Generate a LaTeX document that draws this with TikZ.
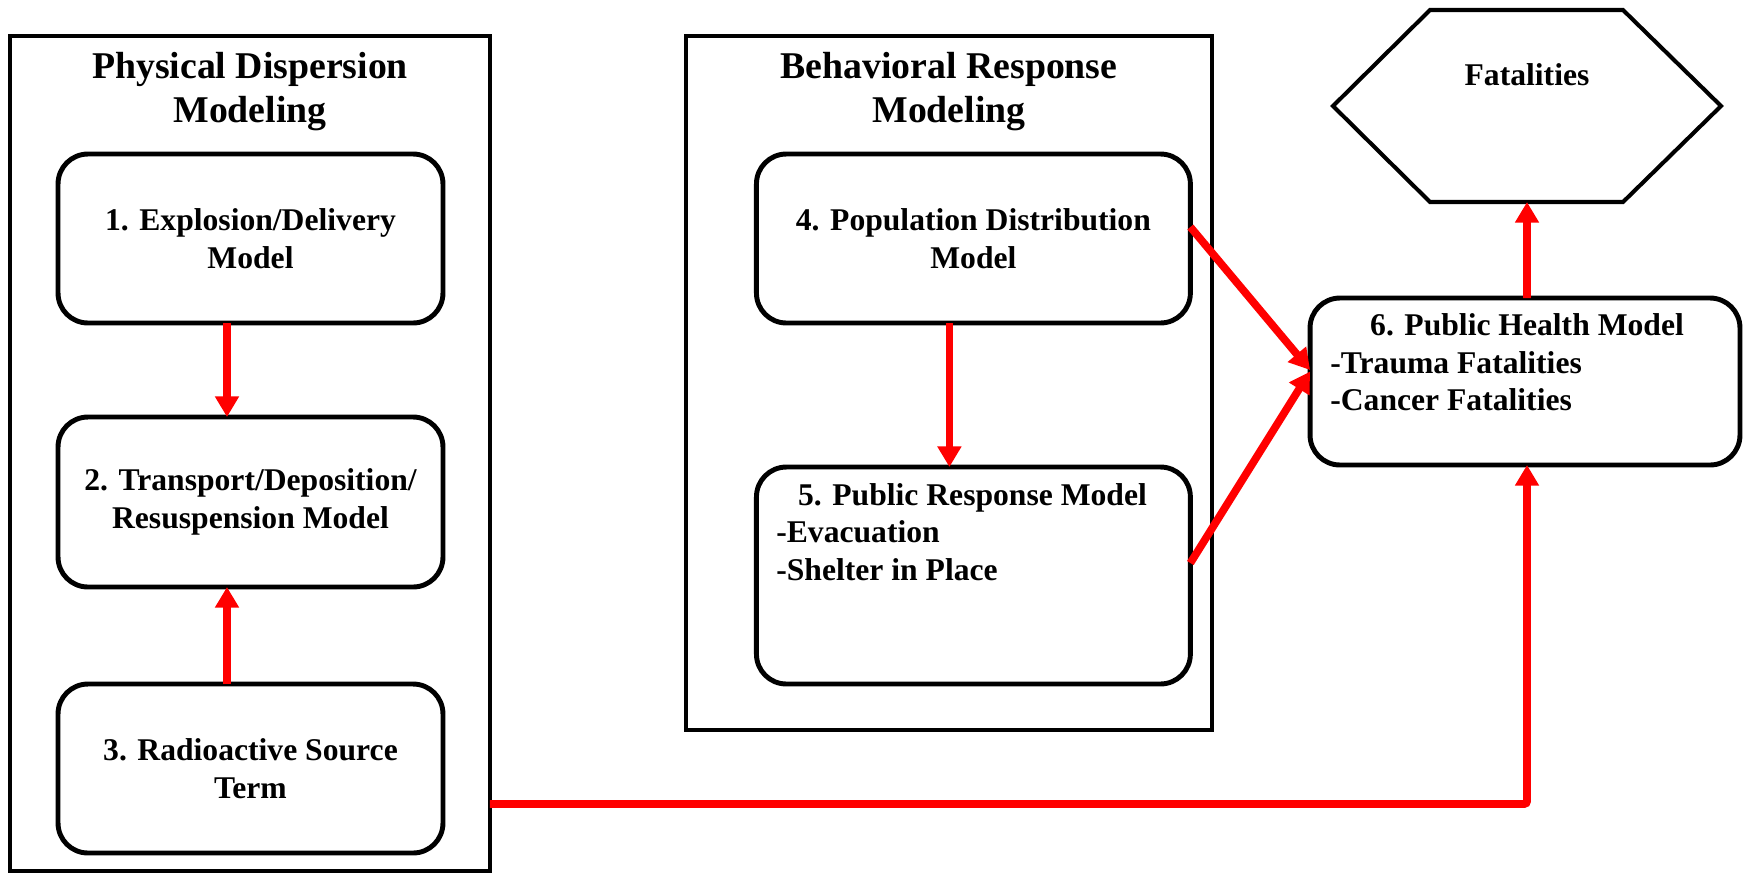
\documentclass[tikz,border=0pt]{standalone}
\usepackage{fontspec}
\setmainfont{Liberation Serif}
\usetikzlibrary{arrows.meta}

\begin{document}
\begin{tikzpicture}[x=0.02cm,y=-0.02cm,
  group/.style={draw, line width=2.5pt, inner sep=0pt, outer sep=0pt},
  modelbox/.style={draw, line width=2.8pt, rounded corners=17pt, inner sep=0pt,
    outer sep=0pt, align=center, font=\fontsize{18}{21.5}\selectfont\bfseries},
  heading/.style={align=center, inner sep=0pt, font=\fontsize{21.5}{25}\selectfont\bfseries},
  itemtext/.style={inner sep=0pt, font=\fontsize{18}{21.5}\selectfont\bfseries},
  flow/.style={draw=red, line width=4.4pt, -{Triangle[width=13pt,length=11.7pt]}},
]
\useasboundingbox (0,0) rectangle (1743,873);

% grouping frames
\node[group, minimum width=9.6cm, minimum height=16.7cm] (outerL) at (250,453.5) {};
\node[group, minimum width=10.52cm, minimum height=13.88cm] (outerM) at (948.75,383) {};
\node[heading] (titleL) at (250,92) {Physical Dispersion\\Modeling};
\node[heading] (titleM) at (949,92) {Behavioral Response\\Modeling};

% physical dispersion models
\node[modelbox, minimum width=7.7cm, minimum height=3.38cm] (box1) at (250.5,238.5) {1. Explosion/Delivery\\Model};
\node[modelbox, minimum width=7.7cm, minimum height=3.4cm] (box2) at (250.5,502) {2. Transport/Deposition/\\Resuspension Model};
\node[modelbox, minimum width=7.7cm, minimum height=3.38cm] (box3) at (250.5,768.5) {3. Radioactive Source\\Term};

% behavioural response models
\node[modelbox, minimum width=8.68cm, minimum height=3.38cm] (box4) at (973.4,238.5) {4. Population Distribution\\Model};
\node[modelbox, minimum width=8.68cm, minimum height=4.34cm] (box5) at (973.4,575.5) {};
\node[itemtext, anchor=base] (b5title) at (972.5,505) {5. Public Response Model};
\node[itemtext, anchor=base west] (b5a) at (776,542) {-Evacuation};
\node[itemtext, anchor=base west] (b5b) at (776,580) {-Shelter in Place};

% public health model
\node[modelbox, minimum width=8.6cm, minimum height=3.34cm] (box6) at (1525,381.5) {};
\node[itemtext, anchor=base] (b6title) at (1527,335) {6. Public Health Model};
\node[itemtext, anchor=base west] (b6a) at (1330,373) {-Trauma Fatalities};
\node[itemtext, anchor=base west] (b6b) at (1330,410) {-Cancer Fatalities};

% outcome hexagon
\draw[line width=2.3pt, line join=miter]
  (1333,106) -- (1430,10) -- (1623,10) -- (1721,106) -- (1623,202) -- (1430,202) -- cycle;
\node[itemtext, anchor=base] (fatal) at (1527,85) {Fatalities};
\coordinate (hexbottom) at (1527,202);

% flows
\draw[flow] ([xshift=-0.47cm]box1.south) -- ([xshift=-0.47cm]box2.north);
\draw[flow] ([xshift=-0.47cm]box3.north) -- ([xshift=-0.47cm]box2.south);
\draw[flow] ([xshift=-0.48cm]box4.south) -- ([xshift=-0.48cm]box5.north);
\draw[flow] ([yshift=0.23cm]box4.east) -- ([yshift=0.23cm]box6.west);
\draw[flow] ([yshift=0.25cm]box5.east) -- ([yshift=0.2cm]box6.west);
\draw[flow] ([xshift=0.04cm]box6.north) -- (hexbottom);
\draw[flow, rounded corners=1.5pt] ([yshift=-7.01cm]outerL.east) -| ([xshift=0.04cm]box6.south);
\end{tikzpicture}
\end{document}
